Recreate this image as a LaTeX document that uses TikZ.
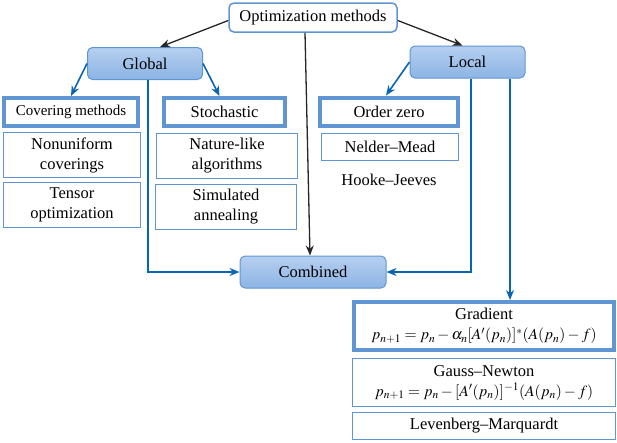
\documentclass[tikz,border=0pt]{standalone}
\usepackage{fontspec}
\usepackage{mathptmx}
\setmainfont{Liberation Serif}
\usetikzlibrary{arrows.meta}
\usetikzlibrary{positioning}
\definecolor{boxblue}{RGB}{95,150,210}
\definecolor{arrblue}{RGB}{10,100,180}
\definecolor{filltop}{RGB}{182,207,240}
\definecolor{fillbot}{RGB}{140,180,228}

\tikzset{
    rootbox/.style={draw=boxblue, line width=1.5pt, rounded corners=5pt, fill=white, minimum width=168pt, minimum height=29pt},
    headbox/.style={draw=boxblue, line width=1pt, rounded corners=5pt, top color=filltop, bottom color=fillbot, minimum width=115pt, minimum height=32pt},
    classbox/.style={draw=boxblue, line width=4pt, minimum height=28pt, align=center},
    itembox/.style={draw=boxblue, line width=1.5pt, align=center},
    blk/.style={-{Stealth[length=10pt,width=8pt]}, line width=1.3pt, black!85},
    blu/.style={-{Stealth[length=10pt,width=8pt]}, line width=1.6pt, arrblue},
}

\begin{document}
\begin{tikzpicture}[x=1pt, y=-1pt, font=\fontsize{16.5}{20}\selectfont]
        \useasboundingbox (0,0) rectangle (617,442);

        % Top
        \node[rootbox] (root) at (313,17.5) {Optimization methods};
        \node[headbox] (global) at (145,63.5) {Global};
        \node[headbox] (local) at (467.5,62) {Local};

        % Global branch
        \node[classbox, minimum width=134pt] (cover) at (71,112) {\fontsize{15}{18}\selectfont Covering methods};
        \node[itembox, minimum width=137pt, minimum height=45pt] (nonunif) at (72,155) {Nonuniform\\coverings};
        \node[itembox, minimum width=137pt, minimum height=45pt] (tensor) at (72,205) {Tensor\\optimization};

        \node[classbox, minimum width=121pt] (stoch) at (224.5,112) {Stochastic};
        \node[itembox, minimum width=141pt, minimum height=45pt] (nature) at (227,156) {Nature-like\\algorithms};
        \node[itembox, minimum width=141pt, minimum height=45pt] (anneal) at (226,207) {Simulated\\annealing};

        % Local branch
        \node[classbox, minimum width=138pt] (zero) at (389,111.5) {Order zero};
        \node[itembox, minimum width=137pt, minimum height=27pt] (nelder) at (390,147) {Nelder--Mead};
        \node (hooke) at (389,180) {Hooke--Jeeves};

        \node[headbox, minimum width=146pt] (comb) at (313,272) {Combined};

        \node[classbox, minimum width=260pt, minimum height=48pt] (grad) at (484,326) {Gradient\\\fontsize{15.5}{21}\selectfont$p_{n+1}=p_n-\alpha_n[A'(p_n)]^*(A(p_n)-f)$};
        \node[itembox, minimum width=263pt, minimum height=48pt] (gauss) at (484,382.5) {Gauss--Newton\\\fontsize{15.5}{21}\selectfont$p_{n+1}=p_n-[A'(p_n)]^{-1}(A(p_n)-f)$};
        \node[itembox, minimum width=263pt, minimum height=27pt] (levm) at (484,426) {Levenberg--Marquardt};

        % Arrows
        \draw[blk] ([yshift=-3pt]root.west) -- ([xshift=15pt]global.north);
        \draw[blk] ([yshift=-3pt]root.east) -- ([xshift=-5pt]local.north);
        \draw[blk] ([xshift=-8pt]root.south) -- ([xshift=-3pt]comb.north);

        \draw[blu] (global.west) -- (cover.north);
        \draw[blu] (global.east) -- ([xshift=-5pt]stoch.north);
        \draw[blu] (local.west) -- ([xshift=-3pt]zero.north);

        \draw[blu] ([xshift=3pt]global.south) |- (comb.west);
        \draw[blu] ([xshift=3.5pt]local.south) |- (comb.east);
        \draw[blu] ([xshift=42.5pt]local.south) -- ([xshift=26pt]grad.north);
    \end{tikzpicture}
\end{document}
